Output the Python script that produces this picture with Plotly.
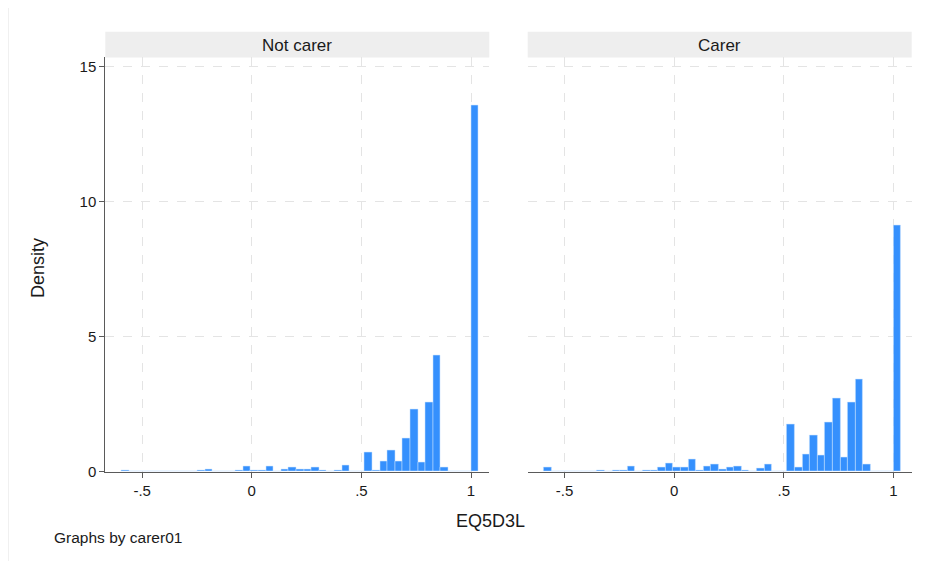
import numpy as np
import plotly.graph_objects as go

# ---- data ----
BIN_START = -0.594
BIN_WIDTH = 0.03465
N_BINS = 47
panels = ["Not carer", "Carer"]

density_not_carer = [0.05, 0.01, 0.01, 0.0, 0.01, 0.01, 0.01, 0.01, 0.02, 0.02,
                     0.04, 0.10, 0.01, 0.01, 0.02, 0.04, 0.20, 0.05, 0.06, 0.21,
                     0.02, 0.07, 0.16, 0.07, 0.10, 0.15, 0.05, 0.02, 0.05, 0.23,
                     0.02, 0.01, 0.72, 0.04, 0.37, 0.79, 0.37, 1.22, 2.32, 0.35,
                     2.58, 4.31, 0.16, 0.0, 0.0, 0.0, 13.57]
density_carer = [0.15, 0.01, 0.01, 0.0, 0.01, 0.01, 0.02, 0.04, 0.02, 0.06,
                 0.05, 0.19, 0.01, 0.05, 0.06, 0.14, 0.32, 0.14, 0.14, 0.47,
                 0.05, 0.19, 0.28, 0.09, 0.17, 0.21, 0.06, 0.02, 0.12, 0.28,
                 0.01, 0.01, 1.74, 0.17, 0.64, 1.35, 0.62, 1.84, 2.73, 0.53,
                 2.58, 3.42, 0.27, 0.0, 0.0, 0.0, 9.14]

x_tickvals = [-0.5, 0, 0.5, 1]
x_ticktext = ["-.5", "0", ".5", "1"]
y_tickvals = [0, 5, 10, 15]
y_ticktext = ["0", "5", "10", "15"]

bin_centers = BIN_START + BIN_WIDTH * (np.arange(N_BINS) + 0.5)

# page body keeps its default 8px margin; layout positions below are in
# reference-picture pixels and mapped onto the figure
OFF = 8
VS = 577 / 569          # vertical compensation observed for the capture
W, H = 946 - 2 * OFF, 577 - 2 * OFF
FONT = "Liberation Sans, Arial, sans-serif"
BAR = "#3590fd"

def px(x):
    return (x - OFF) / W

def py(y):
    return 1 - (y * VS - OFF) / H

fig = go.Figure()
for i, vals in enumerate([density_not_carer, density_carer]):
    sfx = "" if i == 0 else str(i + 1)
    fig.add_trace(go.Bar(
        x=bin_centers, y=vals, width=BIN_WIDTH,
        marker=dict(color=BAR, line=dict(color="rgba(200,225,255,0.9)", width=0.6)),
        xaxis="x" + sfx, yaxis="y" + sfx, showlegend=False, hoverinfo="skip",
    ))

xr = [-0.668, 1.0834]
yr = [0, 15.35]
ydom = [py(471.7), py(57.3)]
common_x = dict(range=xr, tickvals=x_tickvals, ticktext=x_ticktext,
                showgrid=True, gridcolor="#e4e4e4", griddash="dash", gridwidth=1,
                zeroline=False, showline=True, linecolor="#5a5a5a", linewidth=1,
                ticks="outside", ticklen=5, tickcolor="#5a5a5a",
                tickfont=dict(family=FONT, size=15, color="#1a1a1a"))
common_y = dict(range=yr, domain=ydom, tickvals=y_tickvals, ticktext=y_ticktext,
                showgrid=True, gridcolor="#e4e4e4", griddash="dash", gridwidth=1,
                zeroline=False)

fig.update_layout(
    width=W, height=H,
    margin=dict(l=0, r=0, t=0, b=0),
    paper_bgcolor="white", plot_bgcolor="white",
    bargap=0,
    xaxis=dict(domain=[px(105.3), px(489.3)], anchor="y", **common_x),
    xaxis2=dict(domain=[px(527.7), px(911.7)], anchor="y2", **common_x),
    yaxis=dict(anchor="x", showline=True, linecolor="#5a5a5a", linewidth=1,
               ticks="outside", ticklen=5, tickcolor="#5a5a5a",
               tickfont=dict(family=FONT, size=15, color="#1a1a1a"), **common_y),
    yaxis2=dict(anchor="x2", showline=False, showticklabels=False, ticks="", **common_y),
    font=dict(family=FONT, color="#1a1a1a"),
)

# thin grey edge of the outer frame on the left
fig.add_shape(type="rect", xref="paper", yref="paper", x0=0, x1=px(9), y0=0, y1=1,
              fillcolor="#f0f0f0", line=dict(width=0), layer="below")
# facet strips
for (x0, x1), title in zip([(105.3, 489.3), (527.7, 911.7)], panels):
    fig.add_shape(type="rect", xref="paper", yref="paper", x0=px(x0), x1=px(x1),
                  y0=py(57.3), y1=py(31.7), fillcolor="#eeeeee", line=dict(width=0), layer="below")
    fig.add_annotation(text=title, xref="paper", yref="paper", x=px((x0 + x1) / 2), y=py(45),
                       showarrow=False, xanchor="center", yanchor="middle",
                       font=dict(family=FONT, size=17, color="#1a1a1a"))

fig.add_annotation(text="Density", xref="paper", yref="paper", x=px(38), y=py(268),
                   textangle=-90, showarrow=False, xanchor="center", yanchor="middle",
                   font=dict(family=FONT, size=18, color="#1a1a1a"))
fig.add_annotation(text="EQ5D3L", xref="paper", yref="paper", x=px(490), y=py(521),
                   showarrow=False, xanchor="center", yanchor="middle",
                   font=dict(family=FONT, size=18, color="#1a1a1a"))
fig.add_annotation(text="Graphs by carer01", xref="paper", yref="paper", x=px(52), y=py(538),
                   showarrow=False, xanchor="left", yanchor="middle",
                   font=dict(family=FONT, size=15.5, color="#1a1a1a"))

fig.write_html("out.html", config={"displayModeBar": False})
